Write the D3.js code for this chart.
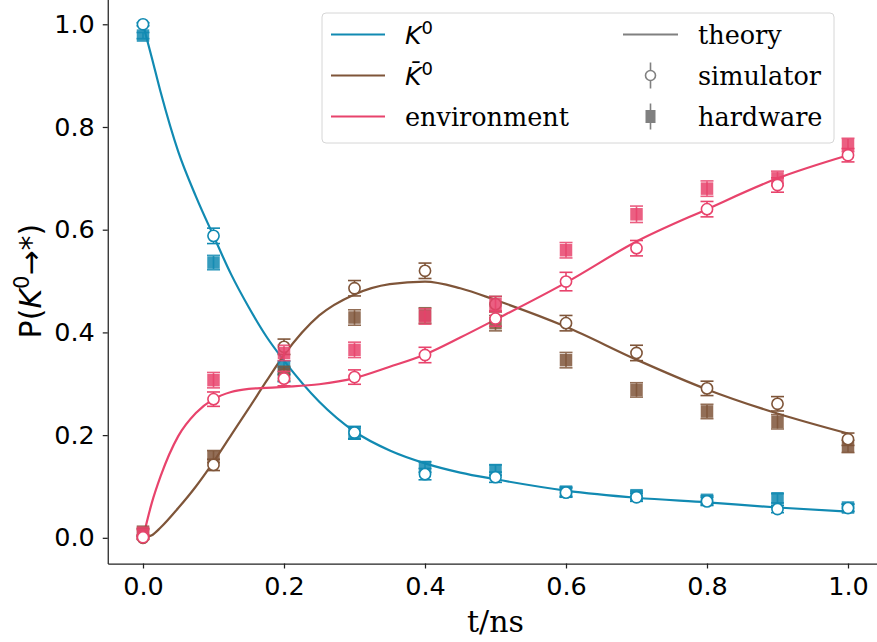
<!DOCTYPE html>
<html>
<head>
<meta charset="utf-8">
<script src="https://cdn.jsdelivr.net/npm/d3@7"></script>
<style>
  body { margin: 0; background: #fff; }
  svg text { fill: #000; }
</style>
</head>
<body>
<div id="chart"></div>
<script>
// measurement times (ns)
const times = [0, 0.1, 0.2, 0.3, 0.4, 0.5, 0.6, 0.7, 0.8, 0.9, 1.0];

// simulator (open circles)
const simK0     = [1.000, 0.588, 0.318, 0.205, 0.124, 0.118, 0.088, 0.079, 0.071, 0.056, 0.058];
const simK0Err  = [0.003, 0.015, 0.014, 0.012, 0.011, 0.010, 0.009, 0.008, 0.008, 0.007, 0.007];
const simKb     = [0.000, 0.142, 0.372, 0.486, 0.520, 0.455, 0.418, 0.360, 0.291, 0.261, 0.192];
const simKbErr  = [0.003, 0.011, 0.015, 0.015, 0.015, 0.015, 0.015, 0.015, 0.014, 0.014, 0.012];
const simEnv    = [0.001, 0.270, 0.310, 0.313, 0.356, 0.427, 0.499, 0.564, 0.640, 0.687, 0.745];
const simEnvErr = [0.003, 0.014, 0.014, 0.014, 0.015, 0.015, 0.018, 0.015, 0.015, 0.014, 0.013];

// hardware (filled squares)
const hwK0     = [0.978, 0.536, 0.331, 0.203, 0.138, 0.132, 0.090, 0.083, 0.074, 0.077, 0.059];
const hwK0Err  = [0.006, 0.014, 0.013, 0.011, 0.010, 0.010, 0.009, 0.008, 0.008, 0.009, 0.007];
const hwKb     = [0.012, 0.158, 0.320, 0.429, 0.433, 0.418, 0.346, 0.288, 0.246, 0.226, 0.178];
const hwKbErr  = [0.006, 0.012, 0.014, 0.015, 0.015, 0.015, 0.015, 0.014, 0.014, 0.014, 0.012];
const hwEnv    = [0.010, 0.307, 0.360, 0.366, 0.431, 0.455, 0.560, 0.630, 0.680, 0.700, 0.765];
const hwEnvErr = [0.006, 0.015, 0.015, 0.015, 0.015, 0.015, 0.015, 0.016, 0.015, 0.014, 0.013];

// theory curves
const theoryT   = [0, 0.0125, 0.025, 0.05, 0.075, 0.1, 0.125, 0.15, 0.175, 0.2, 0.25, 0.3, 0.35, 0.4, 0.45, 0.5, 0.6, 0.7, 0.8, 0.9, 1.0];
const theoryK0  = [1.0, 0.935, 0.868, 0.752, 0.665, 0.588, 0.513, 0.449, 0.392, 0.345, 0.265, 0.207, 0.170, 0.145, 0.127, 0.114, 0.092, 0.078, 0.069, 0.059, 0.051];
const theoryKb  = [0, 0.005, 0.020, 0.058, 0.100, 0.148, 0.200, 0.252, 0.305, 0.356, 0.433, 0.474, 0.494, 0.499, 0.486, 0.463, 0.411, 0.347, 0.289, 0.242, 0.203];
const theoryEnv = [0, 0.068, 0.120, 0.198, 0.243, 0.270, 0.284, 0.290, 0.292, 0.294, 0.299, 0.311, 0.333, 0.357, 0.390, 0.425, 0.497, 0.577, 0.640, 0.700, 0.745];

const xTicks = [0, 0.2, 0.4, 0.6, 0.8, 1.0];
const yTicks = [0, 0.2, 0.4, 0.6, 0.8, 1.0];

const colK0 = "#118ab2", colKb = "#7f5539", colEnv = "#e8436c", colGray = "#808080";

const W = 877, H = 642;
const svg = d3.select("#chart").append("svg")
    .attr("width", W)
    .attr("height", H)
    .style("font-family", "DejaVu Sans");

const x = d3.scaleLinear().domain([-0.05, 1.05]).range([107.75, 883.25]);
const y = d3.scaleLinear().domain([-0.05, 1.05]).range([563.5, -1.4]);

// axes
const xAxis = svg.append("g")
    .attr("transform", `translate(0,${y(-0.05)})`)
    .call(d3.axisBottom(x).tickValues(xTicks).tickFormat(d3.format(".1f")).tickSize(5).tickSizeOuter(0).tickPadding(8));
const yAxis = svg.append("g")
    .attr("transform", `translate(${x(-0.05)},0)`)
    .call(d3.axisLeft(y).tickValues(yTicks).tickFormat(d3.format(".1f")).tickSize(5).tickSizeOuter(0).tickPadding(8));

[xAxis, yAxis].forEach(a => {
    a.select(".domain").attr("stroke", "#222").attr("stroke-width", 1.25);
    a.selectAll(".tick line").attr("stroke", "#222").attr("stroke-width", 1.25);
    a.selectAll(".tick text")
        .style("font-family", "DejaVu Sans")
        .style("font-size", "25.5px")
        .attr("fill", "#000");
});

// axis labels
svg.append("text")
    .attr("x", (x(-0.05) + x(1.05)) / 2)
    .attr("y", 632)
    .attr("text-anchor", "middle")
    .style("font-family", "DejaVu Serif")
    .style("font-size", "30px")
    .text("t/ns");

const yLab = svg.append("text")
    .attr("transform", `translate(41,${(y(-0.05) + y(1.05)) / 2}) rotate(-90)`)
    .attr("text-anchor", "middle")
    .style("font-size", "30px");
yLab.append("tspan").text("P(");
yLab.append("tspan").style("font-style", "italic").text("K");
yLab.append("tspan").attr("dy", -12).style("font-size", "21px").text("0");
yLab.append("tspan").attr("dy", 12).text("→*)");

// theory lines
const line = d3.line()
    .x(d => x(d[0]))
    .y(d => y(d[1]))
    .curve(d3.curveMonotoneX);

const series = [
    { theory: theoryK0, sim: simK0, simErr: simK0Err, hw: hwK0, hwErr: hwK0Err, color: colK0 },
    { theory: theoryKb, sim: simKb, simErr: simKbErr, hw: hwKb, hwErr: hwKbErr, color: colKb },
    { theory: theoryEnv, sim: simEnv, simErr: simEnvErr, hw: hwEnv, hwErr: hwEnvErr, color: colEnv }
];

series.forEach(s => {
    svg.append("path")
        .datum(theoryT.map((t, i) => [t, s.theory[i]]))
        .attr("fill", "none")
        .attr("stroke", s.color)
        .attr("stroke-width", 2.2)
        .attr("d", line);
});

function errorBars(g, pts, color, opacity) {
    const cap = 6.5;
    const eb = g.selectAll(null).data(pts).enter().append("g")
        .attr("stroke", color)
        .attr("stroke-width", 1.6)
        .attr("opacity", opacity);
    eb.append("line")
        .attr("x1", d => x(d.t)).attr("x2", d => x(d.t))
        .attr("y1", d => y(d.v - d.e)).attr("y2", d => y(d.v + d.e));
    eb.append("line")
        .attr("x1", d => x(d.t) - cap).attr("x2", d => x(d.t) + cap)
        .attr("y1", d => y(d.v - d.e)).attr("y2", d => y(d.v - d.e));
    eb.append("line")
        .attr("x1", d => x(d.t) - cap).attr("x2", d => x(d.t) + cap)
        .attr("y1", d => y(d.v + d.e)).attr("y2", d => y(d.v + d.e));
}

series.forEach(s => {
    // hardware first, simulator on top
    const hwPts = times.map((t, i) => ({ t: t, v: s.hw[i], e: s.hwErr[i] }));
    const gh = svg.append("g");
    gh.selectAll("rect").data(hwPts).enter().append("rect")
        .attr("x", d => x(d.t) - 6.25)
        .attr("y", d => y(d.v) - 6.25)
        .attr("width", 12.5)
        .attr("height", 12.5)
        .attr("fill", s.color)
        .attr("opacity", 0.85);
    errorBars(gh, hwPts, s.color, 0.85);

    const simPts = times.map((t, i) => ({ t: t, v: s.sim[i], e: s.simErr[i] }));
    const gs = svg.append("g");
    errorBars(gs, simPts, s.color, 1);
    gs.selectAll("circle").data(simPts).enter().append("circle")
        .attr("cx", d => x(d.t))
        .attr("cy", d => y(d.v))
        .attr("r", 5.6)
        .attr("fill", "#fff")
        .attr("stroke", s.color)
        .attr("stroke-width", 1.6);
});

// legend
const leg = svg.append("g");
leg.append("rect")
    .attr("x", 322).attr("y", 13)
    .attr("width", 512).attr("height", 130)
    .attr("rx", 4)
    .attr("fill", "#fff").attr("fill-opacity", 0.85)
    .attr("stroke", "#d6d6d6").attr("stroke-width", 1);

const rowY = [34.5, 75.5, 116.5];
const legCols = [colK0, colKb, colEnv];
legCols.forEach((c, i) => {
    leg.append("line")
        .attr("x1", 331).attr("x2", 385)
        .attr("y1", rowY[i]).attr("y2", rowY[i])
        .attr("stroke", c).attr("stroke-width", 2.2);
});

function legText(xPos, yPos) {
    return leg.append("text")
        .attr("x", xPos).attr("y", yPos + 9)
        .style("font-size", "25px");
}
let t1 = legText(405, rowY[0]);
t1.append("tspan").style("font-style", "italic").text("K");
t1.append("tspan").attr("dy", -10).style("font-size", "18px").text("0");
let t2 = legText(405, rowY[1]);
t2.append("tspan").style("font-style", "italic").text("K\u0304");
t2.append("tspan").attr("dy", -10).style("font-size", "18px").text("0");
legText(405, rowY[2]).style("font-family", "DejaVu Serif").style("font-size", "25.5px").text("environment");

// second column: marker styles
leg.append("line")
    .attr("x1", 623).attr("x2", 678)
    .attr("y1", rowY[0]).attr("y2", rowY[0])
    .attr("stroke", colGray).attr("stroke-width", 2.2);
leg.append("line")
    .attr("x1", 650.5).attr("x2", 650.5)
    .attr("y1", rowY[1] - 13).attr("y2", rowY[1] + 13)
    .attr("stroke", colGray).attr("stroke-width", 1.6);
leg.append("circle")
    .attr("cx", 650.5).attr("cy", rowY[1]).attr("r", 5)
    .attr("fill", "#fff").attr("stroke", colGray).attr("stroke-width", 1.6);
leg.append("line")
    .attr("x1", 650.5).attr("x2", 650.5)
    .attr("y1", rowY[2] - 13).attr("y2", rowY[2] + 13)
    .attr("stroke", colGray).attr("stroke-width", 1.6);
leg.append("rect")
    .attr("x", 645.5).attr("y", rowY[2] - 6.5)
    .attr("width", 10).attr("height", 13)
    .attr("fill", colGray);

legText(698, rowY[0]).style("font-family", "DejaVu Serif").style("font-size", "25.5px").text("theory");
legText(698, rowY[1]).style("font-family", "DejaVu Serif").style("font-size", "25.5px").text("simulator");
legText(698, rowY[2]).style("font-family", "DejaVu Serif").style("font-size", "25.5px").text("hardware");
</script>
</body>
</html>
